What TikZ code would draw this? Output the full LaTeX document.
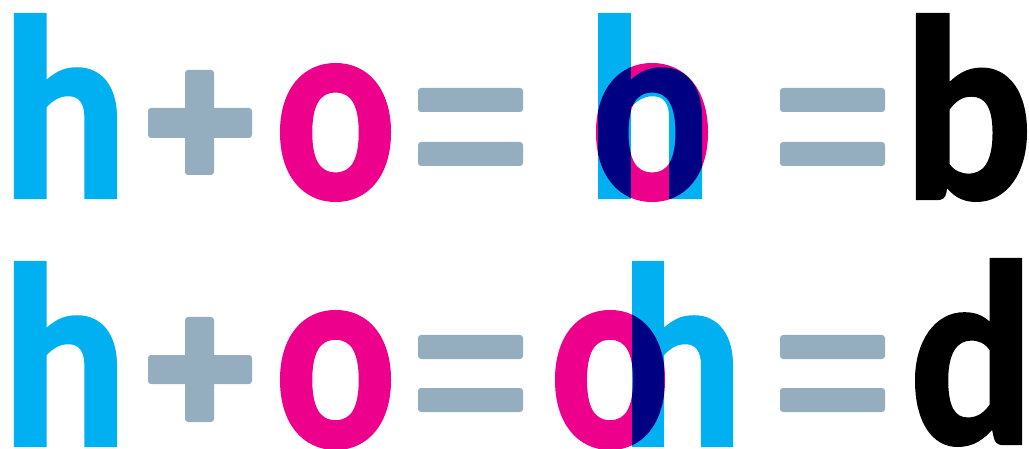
\documentclass[tikz,border=0pt]{standalone}
\usepackage{fontspec}
\newfontfamily\glyphfont{Carlito}[BoldFeatures={FakeBold=1.5}]
\definecolor{hcyan}{HTML}{00B0F0}
\definecolor{omag}{HTML}{EC008C}
\definecolor{opgray}{HTML}{94AEC0}
\newcommand\bigglyphfont{\glyphfont\bfseries\fontsize{200pt}{200pt}\selectfont}
\newcommand\glyphthick{3}% outline stroke added by FakeBold, in pt at 200pt
% measure the ink box of a glyph (done outside the picture)
\newcommand\measureglyph[1]{%
  \begingroup
  \bigglyphfont
  \setbox0=\hbox{#1}%
  \dimen0=\XeTeXglyphbounds1 \XeTeXcharglyph`#1\relax
  \dimen2=\XeTeXglyphbounds2 \XeTeXcharglyph`#1\relax
  \dimen4=\XeTeXglyphbounds3 \XeTeXcharglyph`#1\relax
  \dimen6=\XeTeXglyphbounds4 \XeTeXcharglyph`#1\relax
  \expandafter\xdef\csname gW#1\endcsname{\the\wd0}%
  \expandafter\xdef\csname gL#1\endcsname{\the\dimen0}%
  \expandafter\xdef\csname gT#1\endcsname{\the\dimen2}%
  \expandafter\xdef\csname gR#1\endcsname{\the\dimen4}%
  \expandafter\xdef\csname gB#1\endcsname{\the\dimen6}%
  \endgroup}
\AtBeginDocument{\measureglyph{h}\measureglyph{o}\measureglyph{b}\measureglyph{d}}
% #1 node name, #2 char, #3 colour, #4 left, #5 top, #6 right, #7 bottom (ink box, pixels, y downwards)
\newcommand\inkglyph[7]{%
  \begingroup
  \edef\gW{\csname gW#2\endcsname}\edef\gL{\csname gL#2\endcsname}%
  \edef\gT{\csname gT#2\endcsname}\edef\gR{\csname gR#2\endcsname}%
  \edef\gB{\csname gB#2\endcsname}%
  \pgfmathsetmacro\gxs{(#6-#4)/(\gW-\gL-\gR+\glyphthick pt)}%
  \pgfmathsetmacro\gys{(#7-#5)/(\gT+\gB+\glyphthick pt)}%
  \pgfmathsetmacro\gox{#4-\gxs*(\gL-0.5*\glyphthick pt)}%
  \pgfmathsetmacro\goy{#5+\gys*(\gT+0.5*\glyphthick pt)}%
  \node[glyph, text=#3] (#1) at (\gox,\goy) {\scalebox{\gxs}[\gys]{#2}};%
  \endgroup}
% a glyph that multiplies with what lies beneath it, painted as one group
\newcommand\blendglyph[7]{%
  \begin{scope}[transparency group]
  \begin{scope}[blend mode=normal]
  \inkglyph{#1}{#2}{#3}{#4}{#5}{#6}{#7}
  \end{scope}
  \end{scope}}
\tikzset{
  glyph/.style={inner sep=0pt, outer sep=0pt, anchor=base west, font=\bigglyphfont},
  bar/.style={fill=opgray, rounded corners=3pt},
}
\begin{document}
\begin{tikzpicture}[x=1pt, y=-1pt]
\useasboundingbox (0,0) rectangle (1029,449);
% ---------- row 1 ----------
\inkglyph{h1}{h}{hcyan}{14}{13}{117}{199}
\fill[bar] (148,108) rectangle (252,138);
\fill[bar] (185,70) rectangle (214,175);
\inkglyph{o1}{o}{omag}{280}{63}{391}{202}
\fill[bar] (418,88) rectangle (523,112);
\fill[bar] (418,142) rectangle (523,166);
\begin{scope}[blend mode=multiply]
\blendglyph{hb}{h}{hcyan}{598}{13}{702}{199}
\blendglyph{ob}{o}{omag}{596}{63}{708}{202}
\end{scope}
\fill[bar] (780,88) rectangle (885,112);
\fill[bar] (780,142) rectangle (885,166);
\inkglyph{b}{b}{black}{916}{13}{1027}{202}
% ---------- row 2 ----------
\inkglyph{h2}{h}{hcyan}{14}{261}{117}{447}
\fill[bar] (148,355) rectangle (252,384);
\fill[bar] (185,317) rectangle (214,422);
\inkglyph{o2}{o}{omag}{280}{310}{391}{450}
\fill[bar] (418,335) rectangle (523,359);
\fill[bar] (418,388) rectangle (523,412);
\begin{scope}[blend mode=multiply]
\blendglyph{od}{o}{omag}{555}{310}{665}{450}
\blendglyph{hd}{h}{hcyan}{632}{261}{733}{447}
\end{scope}
\fill[bar] (780,335) rectangle (885,359);
\fill[bar] (780,388) rectangle (885,412);
\inkglyph{d}{d}{black}{915}{258}{1022}{447}
\end{tikzpicture}
\end{document}
